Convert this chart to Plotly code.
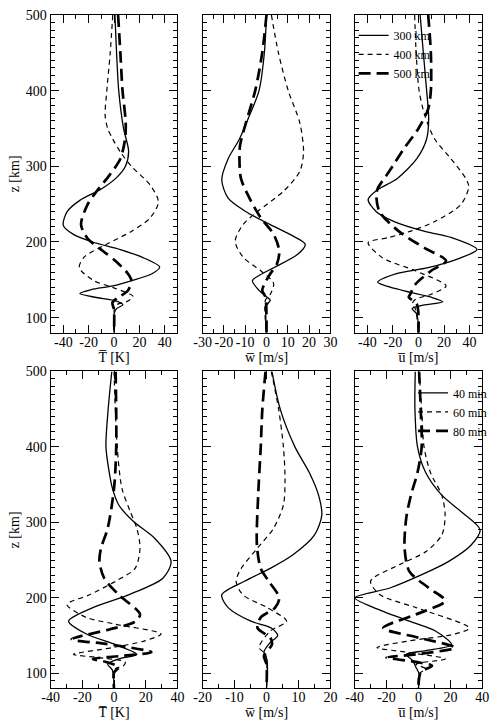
import plotly.graph_objects as go

# ---------------- data (z in km) ----------------
# Top row: different horizontal wavelengths (300, 400, 500 km)
T300_z = [500,450,400,350,320,300,285,270,255,240,222,210,200,190,180,167,158,149,142,137,132,127,122,117,112,105,80]
T300_v = [0.7,2,3.7,7.5,11.5,9,2,-10,-27,-37,-40,-32,-17,5,22,36,30,14,-1,-18,-27,-15,2,7,2,0,0]
T400_z = [500,450,400,367,350,336,319,300,275,253,232,214,197,180,166,149,140,128,122,116,105,80]
T400_v = [-1,-3,-5.7,-7,-5,-1,5,13.7,28.6,35,28.6,13.7,-6,-23.6,-27.4,-16,-1,15,11,1,0,0]
T500_z = [500,450,400,358,336,310,288,267,249,223,205,188,175,158,149,136,127,120,110,80]
T500_v = [3.2,5,6.7,9.2,8.7,5,-3.7,-13.7,-21,-26,-21,-8.7,1.2,11,13.7,11,3.7,-1.2,0,0]

W300_z = [500,450,400,367,336,310,282,258,240,223,210,197,184,166,157,149,136,127,123,116,80]
W300_v = [0,-1,-3.5,-8,-12.7,-18,-21,-18,-9.6,1.8,11,18.2,14.8,3.4,-2.7,-6.6,-3.5,0.3,1.8,0,0]
W400_z = [500,450,400,358,319,293,267,240,223,201,180,162,149,144,131,123,80]
W400_v = [2.3,5.6,10.2,15.6,17.4,15.6,8,-4.3,-11,-14.7,-11,-2.7,2.6,3.4,1.8,-0.5,0]
W500_z = [500,450,400,358,328,310,284,258,232,210,188,171,158,145,136,127,80]
W500_v = [0,-2,-5.3,-9.6,-12.4,-12.7,-12,-8,-2.7,3.4,6,4.9,1.8,-0.9,-2,-0.5,0]

U300_z = [500,450,400,363,336,310,284,269,256,240,227,214,206,190,179,166,158,147,136,127,121,116,112,105,80]
U300_v = [1.3,3.8,6.4,8,6.4,-1.3,-16.5,-32,-39.4,-33,-19,5,25.4,45.8,33,7.6,-17.8,-31.8,-12.7,10,19,2,-5,-1.3,0]
U400_z = [500,450,400,367,336,310,284,273,249,227,215,206,199,179,162,142,131,124,118,112,80]
U400_v = [-3,-1.8,0.5,5,12.7,25.4,37,39.4,33,12.7,-5,-23,-39.4,-28,-2.5,21.6,10,-2.5,-5,-2.5,0]
U500_z = [500,450,400,376,350,323,293,271,262,240,214,192,175,162,144,131,127,118,80]
U500_v = [7.6,9.7,9.7,7.6,0,-11.5,-23,-31.8,-33,-30.5,-15.3,5,21.6,10,-2.5,-6.4,-7.6,-1.3,0]

# Bottom row: different times (40, 60, 80 min)
T40_z = [500,450,400,366,345,323,301,279,248,226,204,187,169,152,138,125,119,112,104,80]
T40_v = [-1.4,-3.7,-5.1,-3,-1,3,12.3,25.6,36,30.8,9.2,-13.3,-28.7,-17.4,1,14.4,3,-4,-1,0]
T60_z = [500,400,345,314,292,266,239,222,204,191,174,165,152,143,134,125,121,115,110,106,80]
T60_v = [0,2,5,10.3,14.4,16.4,13.3,1,-15.4,-29.7,-17.4,1,29.7,19.5,-1,-25.6,-11.3,7,6,1,0]
T80_z = [500,400,345,292,266,248,226,204,178,168,158,145,139,128,123,119,115,108,101,80]
T80_v = [1,1.4,0,-4,-8.2,-9.2,-6.2,3,16.4,13,-3,-26.7,-5,23.6,5,-13.3,-5,3,0,0]

W40_z = [500,450,400,366,336,309,283,257,239,222,204,187,169,160,150,140,128,117,80]
W40_v = [1.7,4.3,8.9,13.4,16.3,17.3,15,8.3,1.2,-6.9,-14,-12,-4.9,1.5,3.5,1,-0.8,0.2,0]
W60_z = [500,450,400,358,323,292,266,239,222,204,187,169,156,134,125,80]
W60_v = [1.5,3.8,5.3,5.8,5.3,2.2,-2.8,-7.9,-9.5,-7.4,0.2,6.3,1.2,-2.3,-0.3,0]
W80_z = [500,450,400,336,270,239,222,200,187,174,160,147,138,123,112,80]
W80_v = [-0.3,-1.3,-1.8,-2.6,-3,-1.8,0.7,4,2.7,-1.8,-2.8,1.2,1.7,-0.8,0,0]

U40_z = [500,450,400,366,336,314,290,270,248,231,213,200,187,169,156,138,130,125,117,108,99,80]
U40_v = [-2,-2.2,-0.6,4.5,14.6,26.8,38.6,33,18.7,2.4,-17.9,-39.8,-28,-5.7,10.6,20.7,4.5,-7.7,-3.7,-1.6,0.4,0]
U60_z = [500,450,400,366,336,309,283,261,244,222,204,187,160,152,143,134,128,119,112,106,99,80]
U60_v = [0.4,2,3.5,7.5,14.6,16.7,14.6,4.5,-11.8,-30,-24,-1.6,31.9,22.8,-5.7,-26,-7.7,16.7,-1.6,4.5,0.4,0]
U80_z = [500,450,400,366,336,305,266,235,213,196,178,160,147,134,125,121,115,110,101,80]
U80_v = [0.4,1.4,2,-0.6,-4.7,-7.7,-8.7,-5.7,6.5,16.7,-1.6,-22,0.4,22.8,-1.6,-20,-1.6,8.5,1.4,0]

top_names = ["300 km", "400 km", "500 km"]
bot_names = ["40 min", "60 min", "80 min"]

x_titles = ["T\u0305 [K]", "w\u0305 [m/s]", "u\u0305 [m/s]"]
top_xranges = [[-50, 50], [-30, 30], [-50, 50]]
bot_xranges = [[-40, 40], [-20, 20], [-40, 40]]
top_xticks = [[-40, -20, 0, 20, 40], [-30, -20, -10, 0, 10, 20, 30], [-40, -20, 0, 20, 40]]
bot_xticks = [[-40, -20, 0, 20, 40], [-20, -10, 0, 10, 20], [-40, -20, 0, 20, 40]]
top_minor = [10, 5, 10]
bot_minor = [10, 5, 10]
z_range = [80, 500]
z_ticks = [100, 200, 300, 400, 500]

# ---------------- styling ----------------
FONT = "Liberation Serif"
styles = [
    dict(color="black", width=1.3),
    dict(color="black", width=1.2, dash="5px,4px"),
    dict(color="black", width=2.7, dash="12px,6px"),
]

panels = [
    (1, 1, [(T300_z, T300_v), (T400_z, T400_v), (T500_z, T500_v)]),
    (1, 2, [(W300_z, W300_v), (W400_z, W400_v), (W500_z, W500_v)]),
    (1, 3, [(U300_z, U300_v), (U400_z, U400_v), (U500_z, U500_v)]),
    (2, 1, [(T40_z, T40_v), (T60_z, T60_v), (T80_z, T80_v)]),
    (2, 2, [(W40_z, W40_v), (W60_z, W60_v), (W80_z, W80_v)]),
    (2, 3, [(U40_z, U40_v), (U60_z, U60_v), (U80_z, U80_v)]),
]

W, H = 500, 724
col_px = [(43, 174), (200, 332), (357, 489)]
row_px = [(8, 329), (368, 688)]


def lab(v):
    return str(v).replace("\u2212", "-")


fig = go.Figure()
layout = {}
for idx, (r, c, curves) in enumerate(panels):
    n = idx + 1
    xa = "x" if n == 1 else f"x{n}"
    ya = "y" if n == 1 else f"y{n}"
    for k, (zz, vv) in enumerate(curves):
        show = (c == 3)
        kw = {}
        if show:
            kw["name"] = top_names[k] if r == 1 else bot_names[k]
            kw["legend"] = "legend" if r == 1 else "legend2"
        fig.add_trace(go.Scatter(
            x=vv, y=zz, mode="lines", line=dict(shape="spline", smoothing=0.8, **styles[k]),
            xaxis=xa, yaxis=ya, showlegend=show, hoverinfo="skip", **kw))
    x0, x1 = col_px[c - 1]
    y0, y1 = row_px[r - 1]
    xr = top_xranges[c - 1] if r == 1 else bot_xranges[c - 1]
    xt = top_xticks[c - 1] if r == 1 else bot_xticks[c - 1]
    mn = top_minor[c - 1] if r == 1 else bot_minor[c - 1]
    axis_common = dict(
        showline=True, linecolor="black", linewidth=1, mirror="allticks",
        ticks="inside", ticklen=8, tickwidth=1, tickcolor="black",
        showgrid=False, zeroline=False, tickangle=0,
        tickfont=dict(family=FONT, size=14, color="black"),
    )
    layout["xaxis" if n == 1 else f"xaxis{n}"] = dict(
        domain=[x0 / W, x1 / W], anchor=ya, range=xr,
        tickmode="array", tickvals=xt, ticktext=[lab(v) for v in xt],
        ticklabelstandoff=-4,
        minor=dict(ticks="inside", ticklen=4, dtick=mn, tick0=0, tickcolor="black", showgrid=False),
        title=dict(text=x_titles[c - 1], font=dict(family=FONT, size=14, color="black"), standoff=0),
        **axis_common)
    layout["yaxis" if n == 1 else f"yaxis{n}"] = dict(
        domain=[(H - y1) / H, (H - y0) / H], anchor=xa, range=z_range,
        tickmode="array", tickvals=z_ticks, ticktext=[lab(v) for v in z_ticks],
        minor=dict(ticks="inside", ticklen=4, dtick=10, tick0=0, tickcolor="black", showgrid=False),
        showticklabels=(c == 1),
        title=dict(text="z [km]" if c == 1 else "", font=dict(family=FONT, size=14, color="black"), standoff=2),
        **axis_common)

fig.update_layout(**layout)
fig.update_layout(
    width=W, height=H, margin=dict(l=0, r=0, t=0, b=0),
    paper_bgcolor="white", plot_bgcolor="white",
    font=dict(family=FONT, size=14, color="black"),
    legend=dict(x=356 / W, y=(H - 14) / H, xanchor="left", yanchor="top",
                bgcolor="rgba(0,0,0,0)", font=dict(family=FONT, size=12, color="black"),
                itemwidth=30, tracegroupgap=0),
    legend2=dict(x=499 / W, y=(H - 375) / H, xanchor="right", yanchor="top",
                 bgcolor="rgba(0,0,0,0)", font=dict(family=FONT, size=12, color="black"),
                 itemwidth=30, tracegroupgap=0),
)

fig.write_html("out.html")
